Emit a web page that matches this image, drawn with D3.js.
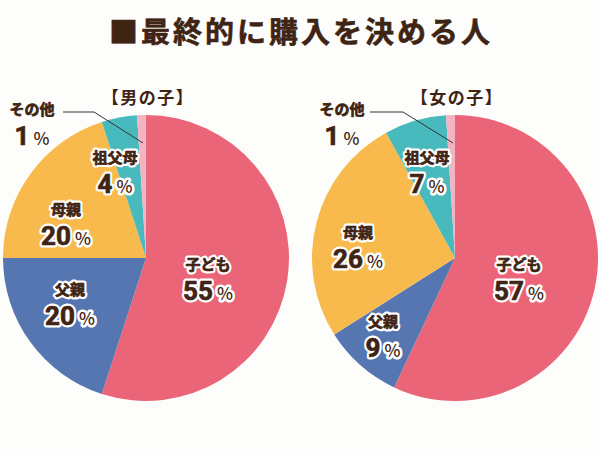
<!DOCTYPE html>
<html><head><meta charset="utf-8">
<script src="https://cdn.jsdelivr.net/npm/d3@7"></script>
<style>
body{margin:0;background:#fdfefc;}
svg{display:block;}
text{font-family:"Noto Sans CJK JP","Noto Sans",sans-serif;font-weight:bold;}
</style></head>
<body>
<svg id="c" width="600" height="450"></svg>
<script>
const title = "■最終的に購入を決める人";
const categories = ["子ども","父親","母親","祖父母","その他"];
const boyValues = [55,20,20,4,1];
const girlValues = [57,9,26,7,1];
const panelTitles = ["【男の子】","【女の子】"];
const colors = ["#ea6577","#5676b2","#f8ba4c","#48b9bc","#f4b3c1"];

const svg = d3.select("#c");
const brown = "#3f2413";
svg.append("rect").attr("width",600).attr("height",450).attr("fill","#fdfefc");
svg.append("text").attr("x",301).attr("y",43).attr("text-anchor","middle")
  .attr("font-size",29).attr("letter-spacing",3).attr("fill",brown)
  .attr("stroke",brown).attr("stroke-width",0.6).text(title);

const R = 143;
const pie = d3.pie().sort(null).value(d=>d);
const arc = d3.arc().innerRadius(0).outerRadius(R);
const color = d3.scaleOrdinal().domain(categories).range(colors);

// label positions relative to center (layout only)
const labelPos = [
  [[62,12],[-76,37],[-80,-43],[-31,-95],[-114,-143]],
  [[64,12],[-72,69],[-97,-20],[-28,-95],[-113,-143]]
];
const leader = [
  [[-83,-146],[-52,-146],[-3,-115]],
  [[-85,-146],[-52,-146],[-2,-115]]
];
const centers = [[146,258],[455,258]];

function label(g, x, y, cat, val, outline){
  const layers = outline ? ["halo","ink"] : ["ink"];
  layers.forEach(layer=>{
    const t1 = g.append("text").attr("x",x).attr("y",y).attr("text-anchor","middle")
      .attr("font-size",15).text(cat);
    const t2 = g.append("text").attr("x",x).attr("y",y+30).attr("text-anchor","middle");
    const num = t2.append("tspan").attr("font-size",26).attr("font-family","Roboto, 'Noto Sans', sans-serif").text(val);
    const pct = t2.append("tspan").attr("font-size",17).attr("dx",4).attr("font-weight","500")
      .attr("font-family","'Noto Sans CJK JP', sans-serif").text("%");
    if(layer==="halo"){
      [t1,t2].forEach(t=>t.attr("fill","#fff").attr("stroke","#fff").attr("stroke-width",5).attr("stroke-linejoin","round"));
    } else {
      [t1,t2].forEach(t=>t.attr("fill",brown));
      [t1,num].forEach(t=>t.attr("stroke",brown).attr("stroke-width",0.7).attr("stroke-linejoin","round"));
    }
  });
}

[boyValues,girlValues].forEach((vals,i)=>{
  const g = svg.append("g").attr("transform",`translate(${centers[i][0]},${centers[i][1]})`);
  const arcs = pie(vals);
  g.selectAll("path.slice").data(arcs).enter().append("path").attr("class","slice")
    .attr("d",arc).attr("fill",(d,j)=>color(categories[j]));
  g.append("text").attr("x",2).attr("y",-154).attr("text-anchor","middle")
    .attr("font-size",17).attr("letter-spacing",1.5).attr("fill",brown).text(panelTitles[i]);
  g.append("path").attr("d",d3.line()(leader[i])).attr("fill","none")
    .attr("stroke","#333").attr("stroke-width",1);
  arcs.forEach((a,j)=>{
    const [x,y] = labelPos[i][j];
    label(g, x, y, categories[j], vals[j], j!==4);
  });
});
</script>
</body></html>
